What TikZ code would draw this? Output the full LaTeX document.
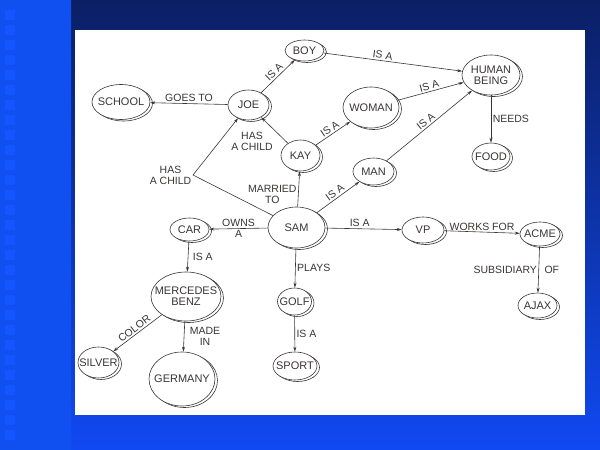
\documentclass[tikz,border=0pt]{standalone}
\usepackage{fontspec}
\setmainfont{Liberation Sans}
\usetikzlibrary{shapes.geometric, shadows, arrows.meta}
\definecolor{navytop}{HTML}{0B1F64}
\definecolor{bluebot}{HTML}{1049F2}
\definecolor{bandlight}{HTML}{1050F0}
\definecolor{banddark}{HTML}{040C2C}
\definecolor{squareblue}{HTML}{1455FF}
\definecolor{ink}{HTML}{3A3535}
\begin{document}
\begin{tikzpicture}[x=1pt, y=-1pt, color=ink, line width=0.6pt,
		>={Stealth[length=5pt, width=3pt]},
		concept/.style={draw, ellipse, fill=white, inner sep=-8pt, align=center,
			font=\fontsize{11}{11}\selectfont,
			copy shadow={shadow xshift=2.5pt, shadow yshift=-1.5pt}},
		lbl/.style={inner sep=1.5pt, align=center, font=\fontsize{10.5}{11}\selectfont}]
	\useasboundingbox (0,0) rectangle (600,450);
	\shade[top color=navytop, bottom color=bluebot] (71,0) rectangle (600,450);
	\shade[top color=bandlight, middle color=banddark, bottom color=bandlight] (0,0) rectangle (71,450);
	\foreach \k in {0,...,28}
		\fill[squareblue] (5,10+15*\k) rectangle +(10,10);
	\fill[white] (75,30) rectangle (585,415);

	\node[concept, minimum width=39pt, minimum height=21pt] (BOY) at (304.5,50.5) {BOY};
	\node[concept, minimum width=58pt, minimum height=40pt] (HUMAN) at (491,75) {HUMAN\\BEING};
	\node[concept, minimum width=58pt, minimum height=35pt] (SCHOOL) at (121,102) {SCHOOL};
	\node[concept, minimum width=41pt, minimum height=30pt] (JOE) at (248.5,105) {JOE};
	\node[concept, minimum width=56pt, minimum height=41pt] (WOMAN) at (371,107.5) {WOMAN};
	\node[concept, minimum width=39pt, minimum height=31pt] (KAY) at (300.5,155.5) {KAY};
	\node[concept, minimum width=38pt, minimum height=27pt] (FOOD) at (491,156.5) {FOOD};
	\node[concept, minimum width=41pt, minimum height=27pt] (MAN) at (373.5,171.5) {MAN};
	\node[concept, minimum width=39pt, minimum height=23pt] (CAR) at (189.5,229.5) {CAR};
	\node[concept, minimum width=57pt, minimum height=41pt] (SAM) at (296.5,227.5) {SAM};
	\node[concept, minimum width=42pt, minimum height=26pt] (VP) at (423,230) {VP};
	\node[concept, minimum width=40pt, minimum height=24pt] (ACME) at (540,234) {ACME};
	\node[concept, minimum width=70pt, minimum height=49pt] (MERC) at (186,296.5) {MERCEDES\\BENZ};
	\node[concept, minimum width=34pt, minimum height=27pt] (GOLF) at (294.5,301.5) {GOLF};
	\node[concept, minimum width=39pt, minimum height=25pt] (AJAX) at (537.5,305.5) {AJAX};
	\node[concept, minimum width=41pt, minimum height=31pt] (SILVER) at (98.5,362.5) {SILVER};
	\node[concept, minimum width=66pt, minimum height=54pt] (GERMANY) at (182,379) {GERMANY};
	\node[concept, minimum width=44pt, minimum height=28pt] (SPORT) at (295,366) {SPORT};
	\coordinate (bend) at (193,175);

	\draw[->] (JOE) to node[midway, lbl, above] {GOES TO} (SCHOOL);
	\draw[->] (JOE) to node[midway, lbl, sloped, above] {IS A} (BOY);
	\draw[->] (BOY) to node[pos=0.42, lbl, sloped, above] {IS A} (HUMAN);
	\draw[->] (KAY) to node[midway, lbl, below left] {HAS\\A CHILD} (JOE);
	\draw[->] (SAM) -- (bend) node[lbl, left] {HAS\\A CHILD} -- (JOE);
	\draw[->] (SAM) to node[pos=0.35, lbl, left] {MARRIED\\TO} (KAY);
	\draw[->] (KAY) to node[midway, lbl, sloped, above] {IS A} (WOMAN);
	\draw[->] (WOMAN) to node[midway, lbl, sloped, above] {IS A} (HUMAN);
	\draw[->] (MAN) to node[midway, lbl, sloped, above] {IS A} (HUMAN);
	\draw[->] (SAM) to node[midway, lbl, sloped, above] {IS A} (MAN);
	\draw[->] (HUMAN) to node[midway, lbl, right] {NEEDS} (FOOD);
	\draw[->] (SAM) to node[midway, lbl, above] {OWNS} node[midway, lbl, below] {A} (CAR);
	\draw[->] (CAR) to node[midway, lbl, right=3pt] {IS A} (MERC);
	\draw[->] (MERC) to node[midway, lbl, sloped, above] {COLOR} (SILVER);
	\draw[->] (MERC) to node[midway, lbl, right=4pt] {MADE\\IN} (GERMANY);
	\draw[->] (SAM) to node[midway, lbl, right] {PLAYS} (GOLF);
	\draw[->] (GOLF) to node[midway, lbl, right] {IS A} (SPORT);
	\draw[->] (SAM) to node[pos=0.45, lbl, above] {IS A} (VP);
	\draw[->] (VP) to node[midway, lbl, above] {WORKS FOR} (ACME);
	\draw[->] (ACME) to node[midway, lbl, left] {SUBSIDIARY} node[midway, lbl, right=4pt] {OF} (AJAX);
\end{tikzpicture}
\end{document}
